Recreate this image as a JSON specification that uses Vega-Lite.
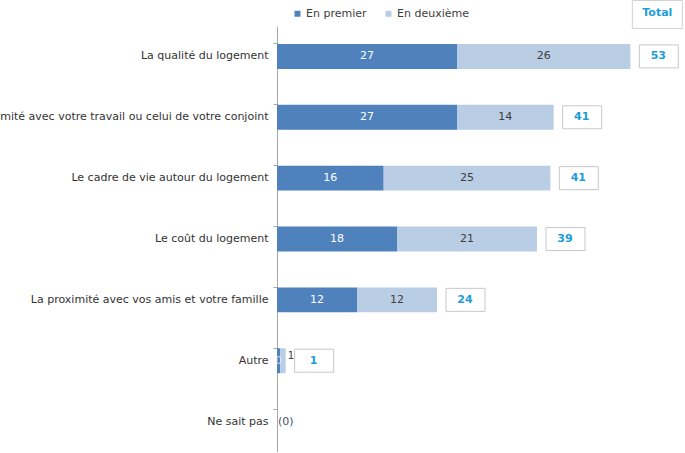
{
  "$schema": "https://vega.github.io/schema/vega-lite/v6.json",
  "autosize": "none",
  "width": 408,
  "height": 426,
  "padding": {"left": 277, "top": 26, "right": 0, "bottom": 0},
  "background": "white",
  "config": {"view": {"stroke": null}, "font": "DejaVu Sans"},
  "datasets": {
    "bars": [
      {"category": "La qualité du logement", "series": "En premier", "value": 27, "label": "27"},
      {"category": "La qualité du logement", "series": "En deuxième", "value": 26, "label": "26"},
      {"category": "La proximité avec votre travail ou celui de votre conjoint", "series": "En premier", "value": 27, "label": "27"},
      {"category": "La proximité avec votre travail ou celui de votre conjoint", "series": "En deuxième", "value": 14.5, "label": "14"},
      {"category": "Le cadre de vie autour du logement", "series": "En premier", "value": 16, "label": "16"},
      {"category": "Le cadre de vie autour du logement", "series": "En deuxième", "value": 25, "label": "25"},
      {"category": "Le coût du logement", "series": "En premier", "value": 18, "label": "18"},
      {"category": "Le coût du logement", "series": "En deuxième", "value": 21, "label": "21"},
      {"category": "La proximité avec vos amis et votre famille", "series": "En premier", "value": 12, "label": "12"},
      {"category": "La proximité avec vos amis et votre famille", "series": "En deuxième", "value": 12, "label": "12"},
      {"category": "Autre", "series": "En premier", "value": 0.5, "label": "0"},
      {"category": "Autre", "series": "En deuxième", "value": 0.8, "label": "1"},
      {"category": "Ne sait pas", "series": "En premier", "value": 0, "label": "(0)"},
      {"category": "Ne sait pas", "series": "En deuxième", "value": 0, "label": ""}
    ],
    "totals": [
      {"category": "La qualité du logement", "total": 53, "label": "53"},
      {"category": "La proximité avec votre travail ou celui de votre conjoint", "total": 41.5, "label": "41"},
      {"category": "Le cadre de vie autour du logement", "total": 41, "label": "41"},
      {"category": "Le coût du logement", "total": 39, "label": "39"},
      {"category": "La proximité avec vos amis et votre famille", "total": 24, "label": "24"},
      {"category": "Autre", "total": 1.3, "label": "1"}
    ],
    "header": [
      {"category": "La qualité du logement", "total": 53, "label": "Total"}
    ]
  },
  "encoding": {
    "y": {
      "field": "category",
      "type": "nominal",
      "sort": ["La qualité du logement", "La proximité avec votre travail ou celui de votre conjoint", "Le cadre de vie autour du logement", "Le coût du logement", "La proximité avec vos amis et votre famille", "Autre", "Ne sait pas"],
      "scale": {"paddingInner": 0.59, "paddingOuter": 0.295},
      "axis": {
        "title": null,
        "bandPosition": 0,
        "domainColor": "#a6a6a6",
        "tickColor": "#a6a6a6",
        "tickSize": 4,
        "labelPadding": 5,
        "labelFontSize": 11,
        "labelColor": "#333333",
        "labelLimit": 0,
        "grid": false
      }
    }
  },
  "layer": [
    {
      "data": {"name": "bars"},
      "mark": {"type": "bar"},
      "encoding": {
        "x": {"field": "value", "type": "quantitative", "stack": "zero", "scale": {"domain": [0, 61.2], "nice": false, "zero": true}, "axis": null},
        "color": {
          "field": "series",
          "type": "nominal",
          "scale": {"domain": ["En premier", "En deuxième"], "range": ["#4f81bd", "#b9cde5"]},
          "legend": {
            "title": null,
            "orient": "none",
            "direction": "horizontal",
            "legendX": 15,
            "legendY": -18,
            "padding": 0,
            "symbolType": "square",
            "symbolSize": 36,
            "symbolStrokeWidth": 0,
            "labelFontSize": 11,
            "labelColor": "#404040",
            "labelOffset": 3,
            "columnPadding": 16
          }
        },
        "order": {"field": "series", "sort": "descending"}
      }
    },
    {
      "data": {"name": "bars"},
      "transform": [
        {"stack": "value", "groupby": ["category"], "as": ["v0", "v1"], "sort": [{"field": "series", "order": "descending"}]},
        {"filter": "datum.category !== 'Autre' && datum.category !== 'Ne sait pas'"},
        {"calculate": "(datum.v0 + datum.v1) / 2", "as": "mid"}
      ],
      "mark": {"type": "text", "fontSize": 11},
      "encoding": {
        "x": {"field": "mid", "type": "quantitative"},
        "text": {"field": "label"},
        "color": {"condition": {"test": "datum.series === 'En premier'", "value": "#ffffff"}, "value": "#404040"}
      }
    },
    {
      "data": {"name": "bars"},
      "transform": [
        {"stack": "value", "groupby": ["category"], "as": ["v0", "v1"], "sort": [{"field": "series", "order": "descending"}]},
        {"filter": "datum.category === 'Autre' && datum.series === 'En premier'"},
        {"calculate": "(datum.v0 + datum.v1) / 2", "as": "mid"}
      ],
      "mark": {"type": "text", "fontSize": 10, "color": "#e8eef7", "opacity": 0.8},
      "encoding": {
        "x": {"field": "mid", "type": "quantitative"},
        "text": {"field": "label"}
      }
    },
    {
      "data": {"name": "bars"},
      "transform": [
        {"stack": "value", "groupby": ["category"], "as": ["v0", "v1"], "sort": [{"field": "series", "order": "descending"}]},
        {"filter": "datum.category === 'Autre' && datum.series === 'En deuxième'"}
      ],
      "mark": {"type": "text", "fontSize": 10, "align": "left", "dx": 2, "dy": -5, "color": "#404040"},
      "encoding": {
        "x": {"field": "v1", "type": "quantitative"},
        "text": {"field": "label"}
      }
    },
    {
      "data": {"name": "bars"},
      "transform": [
        {"filter": "datum.category === 'Ne sait pas' && datum.series === 'En premier'"}
      ],
      "mark": {"type": "text", "fontSize": 11, "align": "left", "dx": 1, "color": "#44546a"},
      "encoding": {
        "x": {"field": "value", "type": "quantitative"},
        "text": {"field": "label"}
      }
    },
    {
      "data": {"name": "totals"},
      "mark": {"type": "bar", "fill": "white", "stroke": "#c8c8c8", "strokeWidth": 1, "size": 23, "xOffset": 9, "x2Offset": 48},
      "encoding": {
        "x": {"field": "total", "type": "quantitative"},
        "x2": {"field": "total"}
      }
    },
    {
      "data": {"name": "totals"},
      "mark": {"type": "text", "fontSize": 11, "fontWeight": "bold", "color": "#1c9dd9", "dx": 28},
      "encoding": {
        "x": {"field": "total", "type": "quantitative"},
        "text": {"field": "label"}
      }
    },
    {
      "data": {"name": "header"},
      "mark": {"type": "bar", "fill": "white", "stroke": "#d0d0d0", "strokeWidth": 1, "size": 28, "xOffset": 2, "x2Offset": 52, "yOffset": -42, "y2Offset": -42},
      "encoding": {
        "x": {"field": "total", "type": "quantitative"},
        "x2": {"field": "total"}
      }
    },
    {
      "data": {"name": "header"},
      "mark": {"type": "text", "fontSize": 11, "fontWeight": "bold", "color": "#1c9dd9", "dx": 27, "yOffset": -43},
      "encoding": {
        "x": {"field": "total", "type": "quantitative"},
        "text": {"field": "label"}
      }
    }
  ]
}
